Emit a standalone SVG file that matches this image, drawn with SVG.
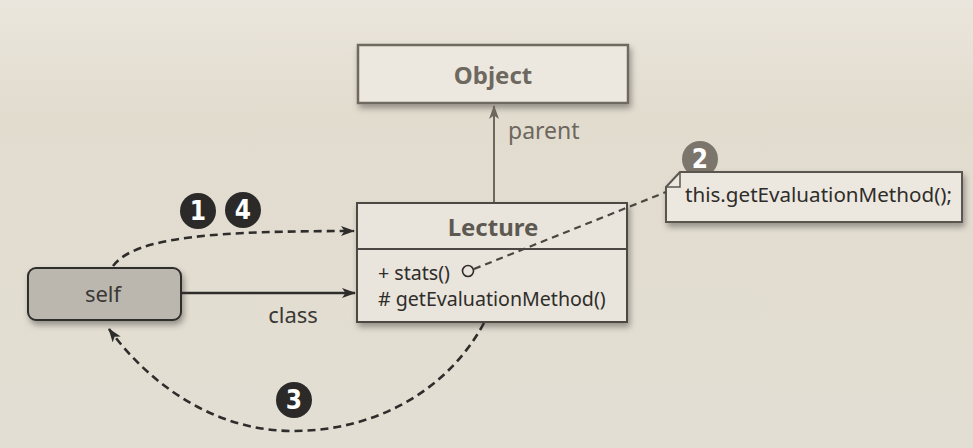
<svg xmlns="http://www.w3.org/2000/svg" width="973" height="448" viewBox="0 0 973 448">
<style>
.t{font-family:"Noto Sans","Open Sans",sans-serif;}
.title{font-size:24px;font-weight:bold;text-anchor:middle;}
.mem{font-size:19.6px;fill:#2f2d2a;}
.lbl{font-size:22px;fill:#3a3835;}
.num{font-family:"DejaVu Sans Condensed","DejaVu Sans",sans-serif;font-stretch:condensed;font-size:26px;font-weight:bold;fill:#ffffff;text-anchor:middle;}
.dash{fill:none;stroke:#2e2d2b;stroke-width:2.6;stroke-dasharray:8 5;}
</style>
<defs>
<linearGradient id="bg" x1="0" y1="0" x2="0" y2="1">
<stop offset="0" stop-color="#ebe6dd"/>
<stop offset="0.25" stop-color="#e2dccf"/>
<stop offset="1" stop-color="#e3ded3"/>
</linearGradient>
<filter id="sh" x="-10%" y="-20%" width="130%" height="160%">
<feDropShadow dx="2" dy="4" stdDeviation="3" flood-color="#000" flood-opacity="0.35"/>
</filter>
<marker id="ah" viewBox="0 0 14 10" refX="13" refY="5" markerWidth="14" markerHeight="10" markerUnits="userSpaceOnUse" orient="auto">
<path d="M0,0 L14,5 L0,10 L3.5,5 z" fill="#2e2d2b"/>
</marker>
<marker id="ahg" viewBox="0 0 14 10" refX="13" refY="5" markerWidth="14" markerHeight="10" markerUnits="userSpaceOnUse" orient="auto">
<path d="M0,0 L14,5 L0,10 L3.5,5 z" fill="#6d675e"/>
</marker>
</defs>
<rect x="0" y="0" width="973" height="448" fill="url(#bg)"/>

<g id="step2">
<circle cx="700" cy="159" r="18" fill="#7b756b"/>
<text class="num" x="700" y="168">2</text>
</g>

<g id="object">
<rect x="358" y="45" width="270" height="58" fill="#ece8df" stroke="#6f6960" stroke-width="2.5" filter="url(#sh)"/>
<text class="t title" x="493" y="84" fill="#6e685f">Object</text>
</g>

<g id="lecture">
<rect x="357" y="203" width="270" height="119" fill="#e9e5dc" stroke="#4b4843" stroke-width="2" filter="url(#sh)"/>
<line x1="357" y1="249" x2="627" y2="249" stroke="#4b4843" stroke-width="2"/>
<text class="t title" x="493" y="236" fill="#5d5852">Lecture</text>
<text class="t mem" x="378" y="280">+ stats()</text>
<circle cx="468" cy="271" r="5.5" fill="none" stroke="#2f2d2a" stroke-width="1.6"/>
<text class="t mem" x="378" y="306"># getEvaluationMethod()</text>
</g>

<g id="self">
<rect x="28" y="268" width="153" height="52" rx="8" fill="#bcb7ae" stroke="#2e2d2b" stroke-width="2" filter="url(#sh)"/>
<text class="t lbl" x="103" y="302" text-anchor="middle">self</text>
</g>

<g id="note">
<path d="M666,187 L680,172 L962,172 L962,222 L666,222 Z" fill="#ece8e0" stroke="#5a5650" stroke-width="2" filter="url(#sh)"/>
<path d="M666,187 L680,187 L680,172" fill="none" stroke="#5a5650" stroke-width="1.5"/>
<text class="t" x="685" y="202" font-size="20.6" fill="#2f2d2a">this.getEvaluationMethod();</text>
</g>

<g id="connectors">
<line x1="494" y1="202" x2="494" y2="106" stroke="#6d675e" stroke-width="2" marker-end="url(#ahg)"/>
<text class="t" x="508" y="139" font-size="23" fill="#6d675e">parent</text>
<line x1="181" y1="293" x2="355" y2="293" stroke="#2e2d2b" stroke-width="2.4" marker-end="url(#ah)"/>
<text class="t lbl" x="293" y="323" text-anchor="middle" font-size="23">class</text>
<path class="dash" d="M113,266 C135,236 220,231 354,231" marker-end="url(#ah)"/>
<path class="dash" d="M484,323 C445,395 370,431 293,431 C215,431 150,385 109,329" marker-end="url(#ah)"/>
<path d="M474,269 L666,192" fill="none" stroke="#4a4742" stroke-width="2.2" stroke-dasharray="7 5"/>
</g>

<g id="step1">
<circle cx="198" cy="211" r="18" fill="#2b2a28"/>
<text class="num" x="198" y="220">1</text>
</g>
<g id="step4">
<circle cx="243" cy="210" r="18" fill="#2b2a28"/>
<text class="num" x="243" y="219">4</text>
</g>
<g id="step3">
<circle cx="294" cy="400" r="18" fill="#2b2a28"/>
<text class="num" x="294" y="409">3</text>
</g>
</svg>
